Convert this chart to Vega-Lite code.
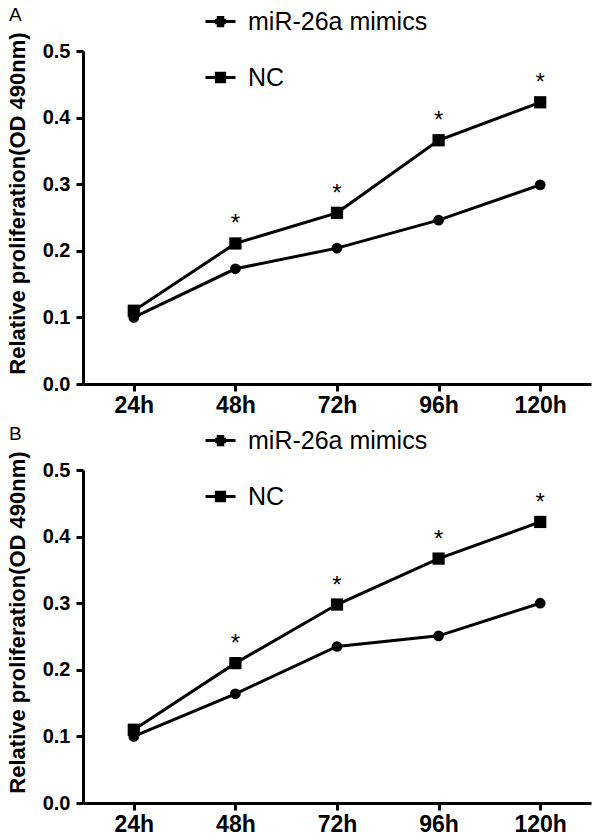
{
  "$schema": "https://vega.github.io/schema/vega-lite/v6.json",
  "padding": {"left": 5, "top": 6, "right": 8, "bottom": 0},
  "background": "white",
  "config": {
    "font": "Liberation Sans",
    "view": {"stroke": null},
    "axis": {
      "grid": false,
      "domainColor": "black",
      "domainWidth": 3,
      "tickColor": "black",
      "tickWidth": 3,
      "tickSize": 7,
      "labelColor": "black",
      "labelFont": "Liberation Sans",
      "labelFontWeight": "bold",
      "titleFont": "Liberation Sans",
      "titleFontWeight": "bold",
      "titleFontSize": 22,
      "titleColor": "black"
    },
    "axisX": {"labelFontSize": 23, "labelPadding": 3},
    "axisY": {"labelFontSize": 20, "labelPadding": 6},
    "legend": {
      "labelFont": "Liberation Sans",
      "labelFontSize": 25,
      "labelColor": "black",
      "labelLimit": 400,
      "symbolSize": 225,
      "symbolStrokeWidth": 3,
      "symbolStrokeColor": "black",
      "symbolOpacity": 1,
      "rowPadding": 30,
      "labelOffset": 15
    },
    "title": {"font": "Liberation Sans", "fontSize": 19, "fontWeight": "normal", "color": "black"}
  },
  "datasets": {
    "A": [
      {"time": "24h", "group": "miR-26a mimics", "value": 0.100, "sig": ""},
      {"time": "48h", "group": "miR-26a mimics", "value": 0.173, "sig": ""},
      {"time": "72h", "group": "miR-26a mimics", "value": 0.204, "sig": ""},
      {"time": "96h", "group": "miR-26a mimics", "value": 0.246, "sig": ""},
      {"time": "120h", "group": "miR-26a mimics", "value": 0.299, "sig": ""},
      {"time": "24h", "group": "NC", "value": 0.110, "sig": ""},
      {"time": "48h", "group": "NC", "value": 0.211, "sig": "*"},
      {"time": "72h", "group": "NC", "value": 0.257, "sig": "*"},
      {"time": "96h", "group": "NC", "value": 0.366, "sig": "*"},
      {"time": "120h", "group": "NC", "value": 0.423, "sig": "*"}
    ],
    "B": [
      {"time": "24h", "group": "miR-26a mimics", "value": 0.100, "sig": ""},
      {"time": "48h", "group": "miR-26a mimics", "value": 0.164, "sig": ""},
      {"time": "72h", "group": "miR-26a mimics", "value": 0.235, "sig": ""},
      {"time": "96h", "group": "miR-26a mimics", "value": 0.251, "sig": ""},
      {"time": "120h", "group": "miR-26a mimics", "value": 0.300, "sig": ""},
      {"time": "24h", "group": "NC", "value": 0.110, "sig": ""},
      {"time": "48h", "group": "NC", "value": 0.210, "sig": "*"},
      {"time": "72h", "group": "NC", "value": 0.298, "sig": "*"},
      {"time": "96h", "group": "NC", "value": 0.367, "sig": "*"},
      {"time": "120h", "group": "NC", "value": 0.422, "sig": "*"}
    ]
  },
  "spacing": 8,
  "vconcat": [
    {
      "title": {"text": "A", "anchor": "start", "frame": "group", "dx": -74, "offset": -16},
      "width": 508,
      "height": 333,
      "data": {"name": "A"},
      "encoding": {
        "x": {"field": "time", "type": "ordinal", "sort": ["24h", "48h", "72h", "96h", "120h"], "scale": {"type": "point", "padding": 0.5}, "axis": {"title": null, "labelAngle": 0}},
        "y": {"field": "value", "type": "quantitative", "scale": {"domain": [0, 0.5]}, "axis": {"title": "Relative proliferation(OD 490nm)", "values": [0, 0.1, 0.2, 0.3, 0.4, 0.5], "format": ".1f", "titleX": -66, "titleY": 152, "titleBaseline": "middle"}}
      },
      "layer": [
        {"mark": {"type": "line", "color": "black", "strokeWidth": 3}, "encoding": {"detail": {"field": "group"}}},
        {"transform": [{"filter": "datum.group === 'miR-26a mimics'"}], "mark": {"type": "point", "shape": "circle", "filled": true, "color": "black", "opacity": 1, "size": 115}},
        {"transform": [{"filter": "datum.group === 'NC'"}], "mark": {"type": "point", "shape": "square", "filled": true, "color": "black", "opacity": 1, "size": 150}},
        {"mark": {"type": "point", "filled": false, "color": "black", "strokeWidth": 3, "opacity": 0},
         "encoding": {
           "shape": {"field": "group", "type": "nominal", "scale": {"domain": ["miR-26a mimics", "NC"], "range": ["M-2,0L2,0M-0.5,-0.55L0.5,-0.55M-0.73,-0.18L0.73,-0.18M-0.73,0.18L0.73,0.18M-0.5,0.55L0.5,0.55", "M-2,0L2,0M-0.75,-0.57L0.75,-0.57M-0.75,-0.19L0.75,-0.19M-0.75,0.19L0.75,0.19M-0.75,0.57L0.75,0.57"]},
           "legend": {"title": null, "orient": "none", "legendX": 125, "legendY": -42, "symbolOpacity": 1, "symbolStrokeColor": "black", "symbolStrokeWidth": 3}}}},
        {"transform": [{"filter": "datum.sig === '*'"}], "mark": {"type": "text", "fontSize": 24, "dy": -12, "baseline": "alphabetic", "color": "black"}, "encoding": {"text": {"field": "sig"}}}
      ]
    },
    {
      "title": {"text": "B", "anchor": "start", "frame": "group", "dx": -74, "offset": -16},
      "width": 508,
      "height": 333,
      "data": {"name": "B"},
      "encoding": {
        "x": {"field": "time", "type": "ordinal", "sort": ["24h", "48h", "72h", "96h", "120h"], "scale": {"type": "point", "padding": 0.5}, "axis": {"title": null, "labelAngle": 0}},
        "y": {"field": "value", "type": "quantitative", "scale": {"domain": [0, 0.5]}, "axis": {"title": "Relative proliferation(OD 490nm)", "values": [0, 0.1, 0.2, 0.3, 0.4, 0.5], "format": ".1f", "titleX": -66, "titleY": 152, "titleBaseline": "middle"}}
      },
      "layer": [
        {"mark": {"type": "line", "color": "black", "strokeWidth": 3}, "encoding": {"detail": {"field": "group"}}},
        {"transform": [{"filter": "datum.group === 'miR-26a mimics'"}], "mark": {"type": "point", "shape": "circle", "filled": true, "color": "black", "opacity": 1, "size": 115}},
        {"transform": [{"filter": "datum.group === 'NC'"}], "mark": {"type": "point", "shape": "square", "filled": true, "color": "black", "opacity": 1, "size": 150}},
        {"mark": {"type": "point", "filled": false, "color": "black", "strokeWidth": 3, "opacity": 0},
         "encoding": {
           "shape": {"field": "group", "type": "nominal", "scale": {"domain": ["miR-26a mimics", "NC"], "range": ["M-2,0L2,0M-0.5,-0.55L0.5,-0.55M-0.73,-0.18L0.73,-0.18M-0.73,0.18L0.73,0.18M-0.5,0.55L0.5,0.55", "M-2,0L2,0M-0.75,-0.57L0.75,-0.57M-0.75,-0.19L0.75,-0.19M-0.75,0.19L0.75,0.19M-0.75,0.57L0.75,0.57"]},
           "legend": {"title": null, "orient": "none", "legendX": 125, "legendY": -42, "symbolOpacity": 1, "symbolStrokeColor": "black", "symbolStrokeWidth": 3}}}},
        {"transform": [{"filter": "datum.sig === '*'"}], "mark": {"type": "text", "fontSize": 24, "dy": -12, "baseline": "alphabetic", "color": "black"}, "encoding": {"text": {"field": "sig"}}}
      ]
    }
  ],
  "resolve": {"scale": {"shape": "independent"}, "legend": {"shape": "independent"}}
}
